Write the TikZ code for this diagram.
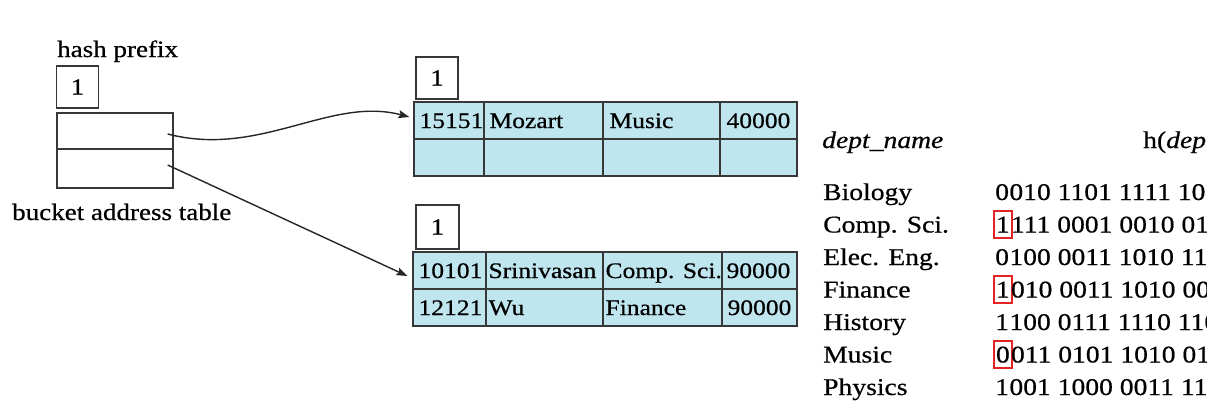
\documentclass[tikz,border=0pt]{standalone}
\usepackage{fontspec}
\setmainfont{Liberation Serif}[FakeStretch=1.15,FakeBold=0.6]
\usetikzlibrary{arrows.meta}
\definecolor{bucketfill}{RGB}{191,229,239}
\definecolor{linegray}{RGB}{55,55,55}
\definecolor{hashred}{RGB}{225,35,35}
\begin{document}
\begin{tikzpicture}[x=1pt,y=-1pt,
  cellfont/.style={font=\fontsize{22.2}{26}\selectfont},
  cell/.style={draw=linegray, line width=1.3pt, fill=bucketfill, minimum height=37pt, inner sep=0pt},
  batcell/.style={draw=linegray, line width=1.3pt, fill=white, minimum width=116pt, inner sep=0pt},
  celltext/.style={cellfont, anchor=west, inner sep=0pt, text height=15pt, text depth=0pt},
  numbox/.style={draw=linegray, line width=1.3pt, fill=white, minimum width=42pt, minimum height=42pt, inner sep=0pt, font=\fontsize{23}{27}\selectfont, text height=15pt, text depth=0pt},
  lbl/.style={font=\fontsize{23.5}{28}\selectfont, anchor=base west, inner sep=0pt},
  rtext/.style={font=\fontsize{24}{29}\selectfont, anchor=base west, inner sep=0pt},
  firstdigit/.style={rtext, inner xsep=2pt, inner ysep=0pt, text height=22pt, text depth=5pt},
  hashbox/.style={firstdigit, draw=hashred, line width=2pt},
  conn/.style={draw=black!85, line width=1.4pt, -{Stealth[length=11pt,width=8pt,inset=2pt]}}
]
\useasboundingbox (0,0) rectangle (1207,405);
\clip (0,0) rectangle (1207,405);

% ---- bucket address table ----
\node[lbl] (hp) at (57,57) {hash prefix};
\node[numbox] (gd) at (77.5,87) {1};
\node[batcell, minimum height=36pt] (bat1) at (115,131) {};
\node[batcell, minimum height=39pt] (bat2) at (115,168.5) {};
\node[lbl] (batl) at (12,220) {bucket address table};

% ---- top bucket ----
\node[numbox] (ld1) at (437,78) {1};
\node[cell, minimum width=70pt]  (a11) at (449,120.5) {};
\node[cell, minimum width=119pt] (a12) at (543.5,120.5) {};
\node[cell, minimum width=117pt] (a13) at (661.5,120.5) {};
\node[cell, minimum width=77pt]  (a14) at (758.5,120.5) {};
\node[cell, minimum width=70pt]  (a21) at (449,157.5) {};
\node[cell, minimum width=119pt] (a22) at (543.5,157.5) {};
\node[cell, minimum width=117pt] (a23) at (661.5,157.5) {};
\node[cell, minimum width=77pt]  (a24) at (758.5,157.5) {};
\node[celltext] at ([xshift=6pt]a11.west) {15151};
\node[celltext] at ([xshift=6pt]a12.west) {Mozart};
\node[celltext] at ([xshift=7pt]a13.west) {Music};
\node[celltext] at ([xshift=7pt]a14.west) {40000};

% ---- bottom bucket ----
\node[numbox, minimum width=43pt, minimum height=44pt] (ld2) at (437.5,227) {1};
\node[cell, minimum width=73pt]  (b11) at (449.5,270.5) {};
\node[cell, minimum width=117pt] (b12) at (544.5,270.5) {};
\node[cell, minimum width=119pt] (b13) at (662.5,270.5) {};
\node[cell, minimum width=75pt]  (b14) at (759.5,270.5) {};
\node[cell, minimum width=73pt]  (b21) at (449.5,307.5) {};
\node[cell, minimum width=117pt] (b22) at (544.5,307.5) {};
\node[cell, minimum width=119pt] (b23) at (662.5,307.5) {};
\node[cell, minimum width=75pt]  (b24) at (759.5,307.5) {};
\node[celltext] at ([xshift=6pt]b11.west) {10101};
\node[celltext] at ([xshift=3pt]b12.west) {Srinivasan};
\node[celltext] at ([xshift=3pt]b13.west) {Comp. Sci.};
\node[celltext] at ([xshift=5pt]b14.west) {90000};
\node[celltext] at ([xshift=6pt]b21.west) {12121};
\node[celltext] at ([xshift=3pt]b22.west) {Wu};
\node[celltext] at ([xshift=3pt]b23.west) {Finance};
\node[celltext] at ([xshift=6pt]b24.west) {90000};

% ---- connectors ----
\draw[conn] ([xshift=-6pt,yshift=-3pt]bat1.east) .. controls (260,158) and (330,96) .. ([xshift=-4pt,yshift=3.5pt]a11.west);
\draw[conn] ([xshift=-6pt,yshift=3.5pt]bat2.east) -- ([xshift=-5pt,yshift=-5.5pt]b11.west);

% ---- hash values ----
\node[rtext] (hdn) at (822,148) {\itshape dept\_name};
\node[rtext] (hh) at (1143,148) {h(\textit{dept\_name})};

\node[rtext] (n1) at (823,200) {Biology};
\node[rtext] (n2) at (823,232.5) {Comp. Sci.};
\node[rtext] (n3) at (823,265) {Elec. Eng.};
\node[rtext] (n4) at (823,297.5) {Finance};
\node[rtext] (n5) at (823,330) {History};
\node[rtext] (n6) at (823,362.5) {Music};
\node[rtext] (n7) at (823,395) {Physics};

\node[firstdigit] (d1) at (993,200) {0};
\node[rtext] at ([xshift=-2pt]d1.base east) {010 1101 1111 1011 0010 1100};
\node[hashbox] (d2) at (993,232.5) {1};
\node[rtext] at ([xshift=-2pt]d2.base east) {111 0001 0010 0100 1001 0011};
\node[firstdigit] (d3) at (993,265) {0};
\node[rtext] at ([xshift=-2pt]d3.base east) {100 0011 1010 1100 1100 0110};
\node[hashbox] (d4) at (993,297.5) {1};
\node[rtext] at ([xshift=-2pt]d4.base east) {010 0011 1010 0000 1100 0110};
\node[firstdigit] (d5) at (993,330) {1};
\node[rtext] at ([xshift=-2pt]d5.base east) {100 0111 1110 1101 1011 1111};
\node[hashbox] (d6) at (993,362.5) {0};
\node[rtext] at ([xshift=-2pt]d6.base east) {011 0101 1010 0110 1100 1001};
\node[firstdigit] (d7) at (993,395) {1};
\node[rtext] at ([xshift=-2pt]d7.base east) {001 1000 0011 1111 1001 1100};
\end{tikzpicture}
\end{document}
